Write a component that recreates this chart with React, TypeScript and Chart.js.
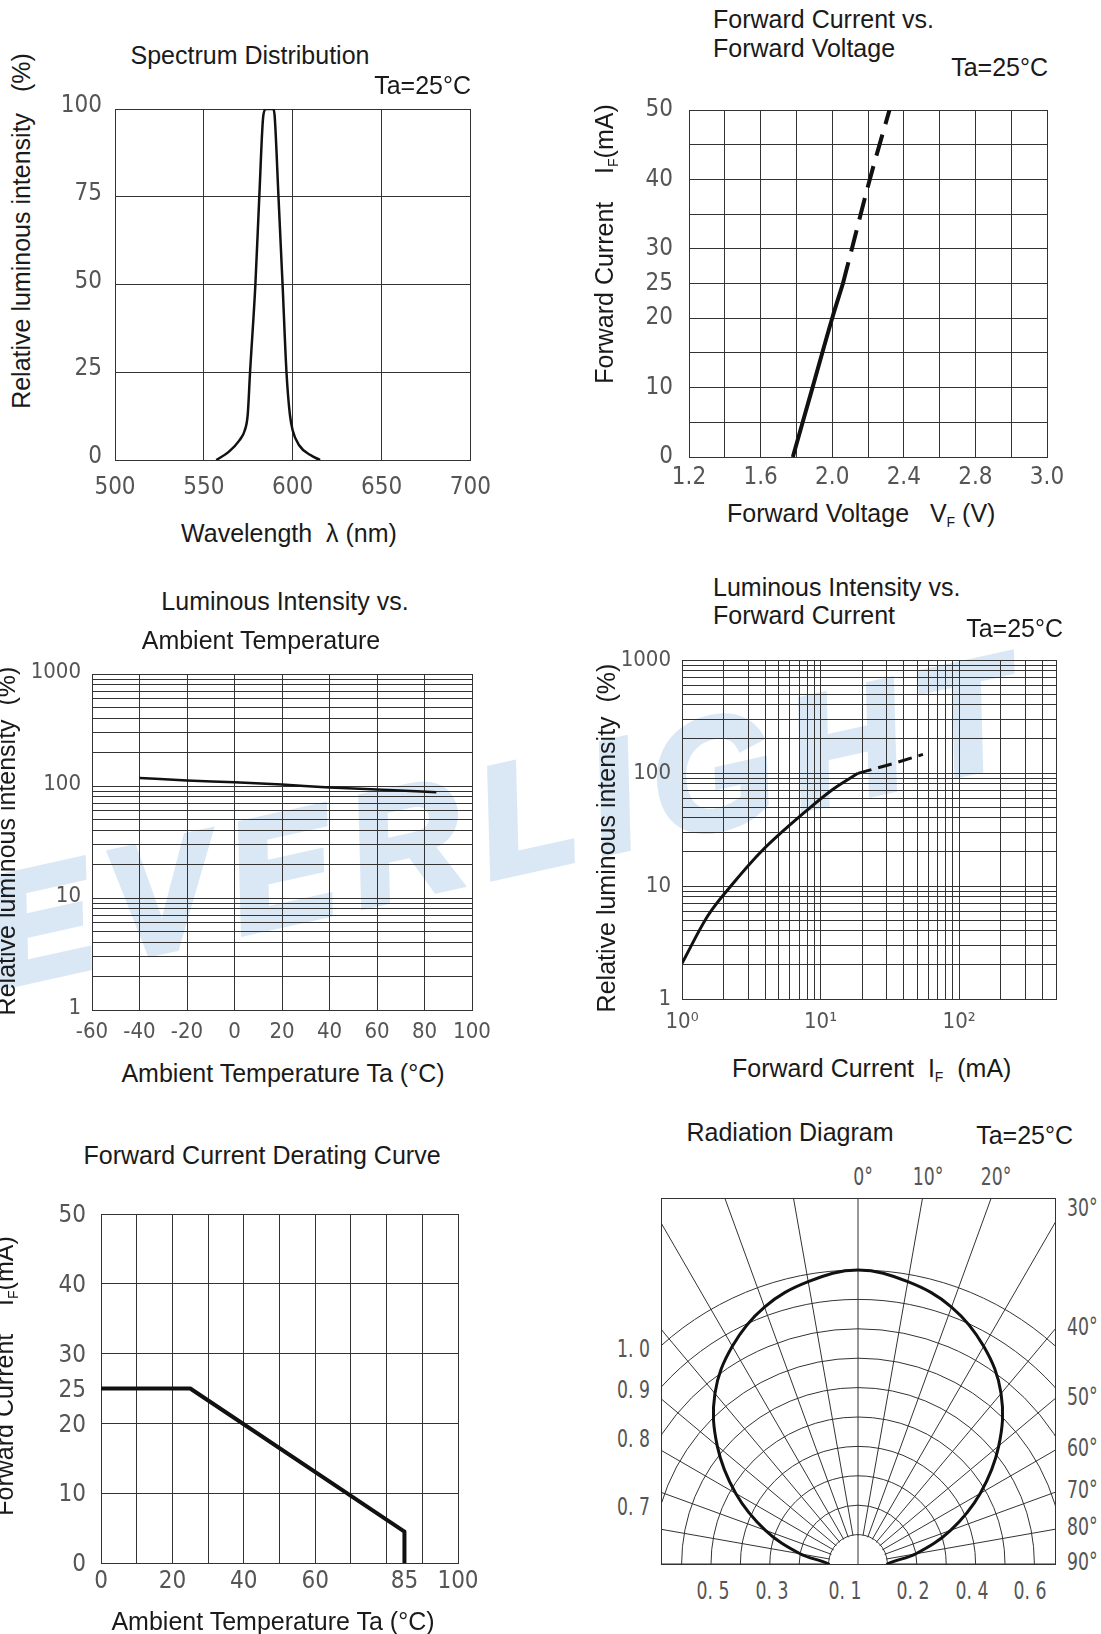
import React, { useEffect, useRef } from 'react';
import { Chart, registerables } from 'chart.js';

Chart.register(...registerables);

// ---------------- Panel 1: Spectrum Distribution ----------------
const spectrumWavelength = [557, 564, 570, 573, 574.7, 576, 579, 581.2, 583.5, 585, 587, 589, 589.8, 592, 594.3, 596.5, 598.4, 600, 603.6, 610, 615.4];
const spectrumIntensity = [0, 2.3, 5.6, 8.4, 13, 25, 50, 75, 98.3, 100, 100, 100, 98.3, 75, 50, 25, 13, 8.4, 4.2, 1.4, 0];
const spectrumXTicks = [500, 550, 600, 650, 700];
const spectrumYTicks = [0, 25, 50, 75, 100];

// ---------------- Panel 2: Forward Current vs Forward Voltage ----------------
const fvSolidVoltage = [1.78, 1.89, 2.0, 2.06];
const fvSolidCurrent = [0, 10, 20, 25];
const fvDashVoltage = [2.06, 2.11, 2.21, 2.32];
const fvDashCurrent = [25, 30, 40, 50];
const fvXGrid = [1.2, 1.4, 1.6, 1.8, 2.0, 2.2, 2.4, 2.6, 2.8, 3.0, 3.2];
const fvXLabels = ['1.2', '', '1.6', '', '2.0', '', '2.4', '', '2.8', '', '3.0'];
const fvYGrid = [0, 5, 10, 15, 20, 25, 30, 35, 40, 45, 50];
const fvYLabels = ['0', '', '10', '', '20', '25', '30', '', '40', '', '50'];

// ---------------- Panel 3: Luminous Intensity vs Ambient Temperature ----------------
const ltTemperature = [-40, -20, 0, 20, 40, 60, 85];
const ltIntensity = [118, 112, 108, 103, 97, 93, 88];
const ltXTicks = [-60, -40, -20, 0, 20, 40, 60, 80, 100];
const logGrid1000 = [1, 2, 3, 4, 5, 6, 7, 8, 9, 10, 20, 30, 40, 50, 60, 70, 80, 90, 100, 200, 300, 400, 500, 600, 700, 800, 900, 1000];
const logLabelValues = [1, 10, 100, 1000];

// ---------------- Panel 4: Luminous Intensity vs Forward Current ----------------
const liSolidCurrent = [1, 1.54, 2.3, 3.78, 7.85, 12.3, 18.6];
const liSolidIntensity = [2.07, 5.48, 10.3, 20.5, 46, 71.8, 99.3];
const liDashCurrent = [18.6, 31.7, 54.8];
const liDashIntensity = [99.3, 119, 146];
const liXGrid = [1, 2, 3, 4, 5, 6, 7, 8, 9, 10, 20, 30, 40, 50, 60, 70, 80, 90, 100, 200, 300, 400, 500];
const liXLabelValues = [1, 10, 100];
const liXLabels = ['10\u2070', '10\u00b9', '10\u00b2'];

// ---------------- Panel 5: Forward Current Derating Curve ----------------
const drTemperature = [0, 25, 85, 85];
const drCurrent = [25, 25, 4.5, 0];
const drXGrid = [0, 10, 20, 30, 40, 50, 60, 70, 80, 85, 90, 100];
const drXLabelValues = [0, 20, 40, 60, 85, 100];
const drXHiddenGrid = [85];
const drYGrid = [0, 10, 20, 25, 30, 40, 50];
const drYHiddenGrid = [25];

// ---------------- Panel 6: Radiation Diagram ----------------
const radAngles = [0, 10, 20, 30, 40, 50, 60, 70, 80, 90, 100, 110, 120, 130, 140, 150, 160, 170, 180, 190, 200, 210, 220, 230, 240, 250, 260, 270, 280, 290, 300, 310, 320, 330, 340, 350];
const radIntensity = [1.0, 0.975, 0.93, 0.855, 0.757, 0.625, 0.48, 0.335, 0.2, 0.1, 0.1, 0.1, 0.1, 0.1, 0.1, 0.1, 0.1, 0.1, 0.1, 0.1, 0.1, 0.1, 0.1, 0.1, 0.1, 0.1, 0.1, 0.1, 0.2, 0.335, 0.48, 0.625, 0.757, 0.855, 0.93, 0.975];
const radRings = [0, 0.1, 0.2, 0.3, 0.4, 0.5, 0.6, 0.7, 0.8, 0.9, 1.0];
const radTopAngles = [0, 10, 20];
const radRightAngles = [30, 40, 50, 60, 70, 80, 90];
const radLeftValues = [1.0, 0.9, 0.8, 0.7];
const radBottomValues = [0.5, 0.3, 0.1, 0.2, 0.4, 0.6];
const radBottomSides = [-1, -1, -1, 1, 1, 1];

// ---------------- styling ----------------
const GRID = '#333333';
const TICK = '#555555';
const TEXT = '#1a1a1a';
const SANS = "'Liberation Sans', Arial, Helvetica, sans-serif";
const COND = "'DejaVu Sans Condensed', 'DejaVu Sans', sans-serif";

type Box = { l: number; t: number; r: number; b: number };

const pts = (xs: number[], ys: number[]) => xs.map((x, i) => ({ x, y: ys[i] }));
const near = (a: number, b: number) => Math.abs(a - b) < 1e-6;
const setTicks = (vals: number[]) => (scale: any) => {
  scale.ticks = vals.map((v) => ({ value: v }));
};

function axis(o: {
  type: string;
  min: number;
  max: number;
  grid: number[];
  label: (v: number, i: number) => string;
  size: number;
  padding: number;
  labelOffset?: number;
  hidden?: number[];
}) {
  return {
    type: o.type,
    min: o.min,
    max: o.max,
    afterBuildTicks: setTicks(o.grid),
    grid: {
      drawTicks: false,
      lineWidth: 1,
      color: (ctx: any) =>
        o.hidden && ctx.tick && o.hidden.some((h) => near(h, ctx.tick.value)) ? 'rgba(0,0,0,0)' : GRID,
    },
    border: { display: true, color: GRID, width: 1 },
    ticks: {
      autoSkip: false,
      maxRotation: 0,
      minRotation: 0,
      padding: o.padding,
      labelOffset: o.labelOffset || 0,
      color: TICK,
      font: { family: COND, size: o.size, lineHeight: 1 },
      callback: (v: any, i: number) => o.label(Number(v), i),
    },
  };
}

function buildXY(pad: Box, datasets: any[], x: any, y: any) {
  return {
    type: 'line',
    data: { datasets },
    options: {
      responsive: false,
      animation: false,
      events: [],
      layout: { padding: { left: 0, top: pad.t, right: pad.r, bottom: 0 } },
      plugins: { legend: { display: false }, tooltip: { enabled: false } },
      elements: { point: { radius: 0 } },
      scales: {
        x: { ...x, afterFit: (s: any) => { s.height = pad.b; } },
        y: { ...y, afterFit: (s: any) => { s.width = pad.l; } },
      },
    },
  };
}

function line(data: any[], width: number, extra: any = {}) {
  return { data, borderColor: '#111111', borderWidth: width, pointRadius: 0, fill: false, ...extra };
}

function ChartBox({ plot, pad, build }: { plot: Box; pad: Box; build: (pad: Box) => any }) {
  const ref = useRef<HTMLCanvasElement>(null);
  const w = plot.r - plot.l + pad.l + pad.r;
  const h = plot.b - plot.t + pad.t + pad.b;
  useEffect(() => {
    const chart = new Chart(ref.current as HTMLCanvasElement, build(pad));
    return () => chart.destroy();
  }, []);
  return (
    <canvas
      ref={ref}
      width={w}
      height={h}
      style={{ position: 'absolute', left: plot.l - pad.l, top: plot.t - pad.t, width: w, height: h }}
    />
  );
}

function T(props: {
  x: number;
  y: number;
  align?: 'left' | 'center' | 'right';
  rotate?: boolean;
  font?: string;
  size?: number;
  color?: string;
  sx?: number;
  children: any;
}) {
  const { x, y, align = 'center', rotate = false, font = SANS, size = 25, color = TEXT, sx = 1 } = props;
  const tx = align === 'center' ? '-50%' : align === 'right' ? '-100%' : '0';
  const origin = align === 'center' ? 'center center' : align === 'right' ? 'right center' : 'left center';
  return (
    <div
      style={{
        position: 'absolute',
        left: x,
        top: y,
        transform: rotate ? 'translate(-50%,-50%) rotate(-90deg)' : `translate(${tx},-50%) scaleX(${sx})`,
        transformOrigin: rotate ? 'center center' : origin,
        whiteSpace: 'pre',
        lineHeight: 1,
        fontFamily: font,
        fontSize: size,
        color,
      }}
    >
      {props.children}
    </div>
  );
}

const Sub = ({ children }: { children: any }) => (
  <span style={{ fontSize: 14, verticalAlign: '-0.3em' }}>{children}</span>
);

// ---------------- chart configs ----------------
const P1: Box = { l: 115, t: 104, r: 472, b: 460 };
const P2: Box = { l: 689, t: 102, r: 1047, b: 457 };
const P3: Box = { l: 92, t: 672, r: 472, b: 1010 };
const P4: Box = { l: 682, t: 658, r: 1056, b: 999 };
const P5: Box = { l: 101, t: 1207, r: 458, b: 1563 };

const buildSpectrum = (pad: Box) =>
  buildXY(
    pad,
    [line(pts(spectrumWavelength, spectrumIntensity), 2.5, { cubicInterpolationMode: 'monotone' })],
    axis({ type: 'linear', min: 500, max: 700, grid: spectrumXTicks, label: (v) => String(v), size: 24, padding: 16 }),
    axis({ type: 'linear', min: 0, max: 100, grid: spectrumYTicks, label: (v) => String(v), size: 24, padding: 13, labelOffset: -3 })
  );

const buildForwardVoltage = (pad: Box) =>
  buildXY(
    pad,
    [
      line(pts(fvSolidVoltage, fvSolidCurrent), 4, { cubicInterpolationMode: 'monotone' }),
      line(pts(fvDashVoltage, fvDashCurrent), 4, { cubicInterpolationMode: 'monotone', borderDash: [22, 11] }),
    ],
    axis({ type: 'linear', min: 1.2, max: 3.2, grid: fvXGrid, label: (_v, i) => fvXLabels[i] || '', size: 24, padding: 9 }),
    axis({ type: 'linear', min: 0, max: 50, grid: fvYGrid, label: (_v, i) => fvYLabels[i] || '', size: 24, padding: 16 })
  );

const buildTempIntensity = (pad: Box) =>
  buildXY(
    pad,
    [line(pts(ltTemperature, ltIntensity), 2.5, { cubicInterpolationMode: 'monotone' })],
    axis({ type: 'linear', min: -60, max: 100, grid: ltXTicks, label: (v) => String(v), size: 22, padding: 11 }),
    axis({
      type: 'logarithmic', min: 1, max: 1000, grid: logGrid1000,
      label: (v) => (logLabelValues.some((u) => near(u, v)) ? String(v) : ''),
      size: 22, padding: 11, labelOffset: -2,
    })
  );

const buildCurrentIntensity = (pad: Box) =>
  buildXY(
    pad,
    [
      line(pts(liSolidCurrent, liSolidIntensity), 3, { cubicInterpolationMode: 'monotone' }),
      line(pts(liDashCurrent, liDashIntensity), 3, { cubicInterpolationMode: 'monotone', borderDash: [14, 7] }),
    ],
    axis({
      type: 'logarithmic', min: 1, max: 500, grid: liXGrid,
      label: (v) => {
        const k = liXLabelValues.findIndex((u) => near(u, v));
        return k >= 0 ? liXLabels[k] : '';
      },
      size: 22, padding: 12,
    }),
    axis({
      type: 'logarithmic', min: 1, max: 1000, grid: logGrid1000,
      label: (v) => (logLabelValues.some((u) => near(u, v)) ? String(v) : ''),
      size: 22, padding: 11,
    })
  );

const buildDerating = (pad: Box) =>
  buildXY(
    pad,
    [line(pts(drTemperature, drCurrent), 4, { borderJoinStyle: 'round' })],
    axis({
      type: 'linear', min: 0, max: 100, grid: drXGrid, hidden: drXHiddenGrid,
      label: (v) => (drXLabelValues.some((u) => near(u, v)) ? String(v) : ''),
      size: 24, padding: 7,
    }),
    axis({
      type: 'linear', min: 0, max: 50, grid: drYGrid, hidden: drYHiddenGrid,
      label: (v) => String(v), size: 24, padding: 15, labelOffset: 2,
    })
  );

// ---------------- radiation diagram ----------------
const BOX6 = { l: 661, t: 1198, r: 1055, b: 1564 };
const RCX = (BOX6.l + BOX6.r) / 2;
const RCY = BOX6.b;
const RUNIT = 294; // pixels for relative value 1.0
const RHALF = 420; // half size of radar canvas
const BOXHALF = (BOX6.r - BOX6.l) / 2;
const RLABEL = { font: COND, size: 24, color: TICK, sx: 0.8 };

function RadiationChart() {
  const ref = useRef<HTMLCanvasElement>(null);
  useEffect(() => {
    const innerBlank = {
      id: 'innerBlank',
      beforeDatasetsDraw(chart: any) {
        const s = chart.scales.r;
        const ctx = chart.ctx;
        const r1 = s.getDistanceFromCenterForValue(radRings[1]);
        ctx.save();
        ctx.beginPath();
        ctx.arc(s.xCenter, s.yCenter, r1 - 1, 0, Math.PI * 2);
        ctx.fillStyle = '#ffffff';
        ctx.fill();
        const p = s.getPointPosition(0, r1);
        ctx.beginPath();
        ctx.moveTo(s.xCenter, s.yCenter);
        ctx.lineTo(p.x, p.y);
        ctx.strokeStyle = GRID;
        ctx.lineWidth = 1;
        ctx.stroke();
        ctx.restore();
      },
    };
    const chart = new Chart(ref.current as HTMLCanvasElement, {
      type: 'radar',
      data: {
        labels: radAngles.map((a) => a + '°'),
        datasets: [
          {
            data: radIntensity,
            borderColor: '#111111',
            backgroundColor: 'rgba(0,0,0,0)',
            borderWidth: 3,
            pointRadius: 0,
            fill: false,
            tension: 0.38,
          },
        ],
      },
      options: {
        responsive: false,
        animation: false,
        events: [],
        layout: { padding: 0 },
        plugins: { legend: { display: false }, tooltip: { enabled: false } },
        scales: {
          r: {
            min: 0,
            max: RHALF / RUNIT,
            startAngle: 0,
            afterBuildTicks: setTicks(radRings),
            ticks: { display: false },
            grid: {
              circular: true,
              lineWidth: 1,
              color: (ctx: any) => (ctx.tick && ctx.tick.value <= 1.0001 ? GRID : 'rgba(0,0,0,0)'),
            },
            angleLines: { display: true, color: GRID, lineWidth: 1 },
            pointLabels: { display: false },
          },
        },
      } as any,
      plugins: [innerBlank],
    } as any);
    return () => chart.destroy();
  }, []);
  const W = BOX6.r - BOX6.l;
  const H = BOX6.b - BOX6.t;
  return (
    <>
      <div style={{ position: 'absolute', left: BOX6.l, top: BOX6.t, width: W, height: H, overflow: 'hidden' }}>
        <canvas
          ref={ref}
          width={RHALF * 2}
          height={RHALF * 2}
          style={{ position: 'absolute', left: RCX - RHALF - BOX6.l, top: RCY - RHALF - BOX6.t, width: RHALF * 2, height: RHALF * 2 }}
        />
      </div>
      <div
        style={{
          position: 'absolute', left: BOX6.l, top: BOX6.t, width: W + 1, height: H + 1,
          boxSizing: 'border-box', border: `1px solid ${GRID}`, pointerEvents: 'none',
        }}
      />
      {radTopAngles.map((a) => (
        <T key={'t' + a} x={RCX + (RCY - BOX6.t) * Math.tan((a * Math.PI) / 180) + 5} y={1177} {...RLABEL}>
          {a + '°'}
        </T>
      ))}
      {radRightAngles.map((a) => {
        const edgeY = a >= 90 ? RCY : RCY - BOXHALF / Math.tan((a * Math.PI) / 180);
        return (
          <T key={'r' + a} x={1067} y={edgeY - (a === 30 ? 15 : 2)} align="left" {...RLABEL}>
            {a + '°'}
          </T>
        );
      })}
      {radLeftValues.map((v) => (
        <T key={'l' + v} x={650} y={RCY - Math.sqrt((v * RUNIT) ** 2 - BOXHALF ** 2) + 3} align="right" {...RLABEL}>
          {v.toFixed(1).replace('.', '. ')}
        </T>
      ))}
      {radBottomValues.map((v, i) => {
        const side = radBottomSides[i];
        const r = v * RUNIT;
        const x = r < 40 ? RCX - 13 : RCX + side * r + (side < 0 ? 2 : -4);
        return (
          <T key={'b' + i} x={x} y={1591} {...RLABEL}>
            {v.toFixed(1).replace('.', '. ')}
          </T>
        );
      })}
    </>
  );
}

export default function App() {
  return (
    <div
      style={{
        position: 'absolute', left: 0, top: 0, width: 1101, height: 1634,
        overflow: 'hidden', background: '#ffffff', fontFamily: SANS,
      }}
    >
      {/* watermark */}
      <div
        style={{
          position: 'absolute', left: 510, top: 819,
          transform: 'translate(-50%,-50%) rotate(-12.5deg)',
          fontFamily: SANS, fontWeight: 'bold', fontStyle: 'italic', fontSize: 155,
          letterSpacing: 20, color: '#dae8f5', whiteSpace: 'pre', lineHeight: 1,
          WebkitTextStroke: '7px #dae8f5',
        }}
      >
        EVERLIGHT
      </div>

      <ChartBox plot={P1} pad={{ l: 80, t: 20, r: 35, b: 45 }} build={buildSpectrum} />
      <ChartBox plot={P2} pad={{ l: 75, t: 20, r: 40, b: 40 }} build={buildForwardVoltage} />
      <ChartBox plot={P3} pad={{ l: 80, t: 20, r: 35, b: 45 }} build={buildTempIntensity} />
      <ChartBox plot={P4} pad={{ l: 75, t: 20, r: 40, b: 45 }} build={buildCurrentIntensity} />
      <ChartBox plot={P5} pad={{ l: 80, t: 20, r: 35, b: 45 }} build={buildDerating} />
      <RadiationChart />

      {/* Panel 1 text */}
      <T x={250} y={55}>Spectrum Distribution</T>
      <T x={471} y={85} align="right">Ta=25°C</T>
      <T x={21} y={231} rotate>{'Relative luminous intensity   (%)'}</T>
      <T x={289} y={533}>{'Wavelength  λ (nm)'}</T>

      {/* Panel 2 text */}
      <T x={713} y={19} align="left">Forward Current vs.</T>
      <T x={713} y={48} align="left">Forward Voltage</T>
      <T x={1048} y={67} align="right">Ta=25°C</T>
      <T x={606} y={244} rotate>
        {'Forward Current    I'}
        <Sub>F</Sub>
        {'(mA)'}
      </T>
      <T x={727} y={515} align="left">
        {'Forward Voltage   V'}
        <Sub>F</Sub>
        {' (V)'}
      </T>

      {/* Panel 3 text */}
      <T x={285} y={601}>Luminous Intensity vs.</T>
      <T x={261} y={640}>Ambient Temperature</T>
      <T x={6} y={841} rotate>{'Relative luminous intensity  (%)'}</T>
      <T x={283} y={1073}>Ambient Temperature Ta (°C)</T>

      {/* Panel 4 text */}
      <T x={713} y={587} align="left">Luminous Intensity vs.</T>
      <T x={713} y={615} align="left">Forward Current</T>
      <T x={1063} y={628} align="right">Ta=25°C</T>
      <T x={606} y={838} rotate>{'Relative luminous intensity  (%)'}</T>
      <T x={732} y={1070} align="left">
        {'Forward Current  I'}
        <Sub>F</Sub>
        {'  (mA)'}
      </T>

      {/* Panel 5 text */}
      <T x={262} y={1155}>Forward Current Derating Curve</T>
      <T x={6} y={1376} rotate>
        {'Forward Current    I'}
        <Sub>F</Sub>
        {'(mA)'}
      </T>
      <T x={273} y={1621}>Ambient Temperature Ta (°C)</T>

      {/* Panel 6 text */}
      <T x={790} y={1132}>Radiation Diagram</T>
      <T x={1073} y={1135} align="right">Ta=25°C</T>
    </div>
  );
}
